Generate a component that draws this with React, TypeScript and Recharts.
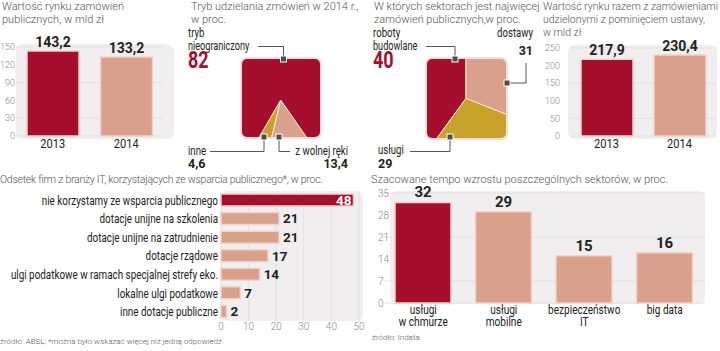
import React from 'react'
import { BarChart, Bar, XAxis, YAxis, CartesianGrid, LabelList, Cell, PieChart, Pie } from 'recharts'

const RED = '#a50e2d'
const SALMON = '#d9a08b'
const GOLD = '#c8a12a'
const BG = '#f0eeee'
const GRID = '#e3dfdf'
const TXT = '#222'
const TICK = '#8a8a8a'
const BAR_EDGE = '#f1d2cc'

const FONT = 'Roboto, "Noto Sans", sans-serif'

// wartość rynku zamówień publicznych, mld zł
const years = ['2013', '2014']
const marketValue = [143.2, 133.2]
const marketTicks = [0, 30, 60, 90, 120, 150]
// razem z zamówieniami z pominięciem ustawy
const marketTotal = [217.9, 230.4]
const totalTicks = [0, 50, 100, 150, 200, 250]

// tryb udzielania zamówień 2014, %
const modeNames = ['inne', 'z wolnej ręki', 'tryb nieograniczony']
const modeShares = [4.6, 13.4, 82]

// sektory, %
const sectorNames = ['roboty budowlane', 'usługi', 'dostawy']
const sectorShares = [40, 29, 31]

// wsparcie publiczne firm IT, %
const supportNames = [
  'nie korzystamy ze wsparcia publicznego',
  'dotacje unijne na szkolenia',
  'dotacje unijne na zatrudnienie',
  'dotacje rządowe',
  'ulgi podatkowe w ramach specjalnej strefy eko.',
  'lokalne ulgi podatkowe',
  'inne dotacje publiczne',
]
const supportShares = [48, 21, 21, 17, 14, 7, 2]
const supportTicks = [0, 10, 20, 30, 40, 50]

// tempo wzrostu sektorów, %
const growthNames = ['usługi\nw chmurze', 'usługi\nmobilne', 'bezpieczeństwo\nIT', 'big data']
const growthValues = [32, 29, 15, 16]
const growthTicks = [0, 7, 14, 21, 28, 35]

const pl = (v: number | string) => String(v).replace('.', ',')

const marketData = years.map((y, i) => ({ name: y, value: marketValue[i] }))
const totalData = years.map((y, i) => ({ name: y, value: marketTotal[i] }))
const modeData = modeNames.map((n, i) => ({ name: n, value: modeShares[i] }))
const sectorData = sectorNames.map((n, i) => ({ name: n, value: sectorShares[i] }))
const supportData = supportNames.map((n, i) => ({ name: n, value: supportShares[i] }))
const growthData = growthNames.map((n, i) => ({ name: n, value: growthValues[i] }))

// condensed look: Roboto squeezed horizontally
function NText({ x, y, anchor = 'start', size = 12, weight = 400, fill = TXT, sx = 0.8, dy, children }: {
  x: number; y: number; anchor?: 'start' | 'middle' | 'end'; size?: number; weight?: number
  fill?: string; sx?: number; dy?: string | number; children: React.ReactNode
}) {
  return (
    <text transform={`translate(${x},${y}) scale(${sx},1)`} textAnchor={anchor} dy={dy}
      style={{ fontSize: size, fontWeight: weight, fontFamily: FONT, fill }}>
      {children}
    </text>
  )
}

function Title({ left, top, lines, size = 11, spacing = 0 }: {
  left: number; top: number; lines: string[]; size?: number; spacing?: number
}) {
  return (
    <div style={{
      position: 'absolute', left, top,
      fontFamily: FONT, fontWeight: 300, fontSize: size, lineHeight: '13px', letterSpacing: spacing,
      color: '#555', whiteSpace: 'nowrap'
    }}>
      {lines.map((l, i) => <div key={i}>{l}</div>)}
    </div>
  )
}

function Panel({ left, top, bg, children }: {
  left: number; top: number
  bg: { left: number; top: number; width: number; height: number }
  children: React.ReactNode
}) {
  return (
    <>
      <div style={{ position: 'absolute', ...bg, background: BG, borderRadius: 7 }} />
      <div style={{ position: 'absolute', left, top }}>{children}</div>
    </>
  )
}

const YearTick = (props: any) => (
  <NText x={props.x} y={props.y} anchor="middle" dy="0.71em" size={13} sx={0.85}>{props.payload.value}</NText>
)

const TopValueLabel = (props: any) => {
  const { x, y, width, value } = props
  return (
    <text x={x + width / 2} y={y - 4} textAnchor="middle"
      style={{ fontSize: 14, fontWeight: 700, fontFamily: FONT, fill: TXT }}>
      {pl(value)}
    </text>
  )
}

function YearBars({ data, ticks, max, margin, yWidth, yMargin }: {
  data: { name: string; value: number }[]; ticks: number[]; max: number
  margin: { top: number; right: number; bottom: number; left: number }
  yWidth: number; yMargin: number
}) {
  return (
    <BarChart width={180} height={160} data={data} margin={margin}>
      <CartesianGrid vertical={false} stroke={GRID} />
      <XAxis dataKey="name" height={24} axisLine={false} tickLine={false} tickSize={0} tickMargin={3}
        tick={<YearTick />} />
      <YAxis domain={[0, max]} ticks={ticks} width={yWidth} axisLine={false} tickLine={false} tickSize={0}
        tickMargin={yMargin} tick={{ fontSize: 9, fill: TICK, fontFamily: FONT, fontWeight: 300 }} />
      <Bar dataKey="value" barSize={52} stroke={BAR_EDGE} strokeWidth={1.5} isAnimationActive={false}>
        <Cell fill={RED} />
        <Cell fill={SALMON} />
        <LabelList dataKey="value" content={TopValueLabel} />
      </Bar>
    </BarChart>
  )
}

function SquarePie({ left, top, size, cx, cy, data, colors, startAngle }: {
  left: number; top: number; size: number; cx: number; cy: number
  data: { name: string; value: number }[]; colors: string[]; startAngle: number
}) {
  return (
    <div style={{
      position: 'absolute', left, top, width: size, height: size, boxSizing: 'border-box',
      border: '2px solid #f3dedb', borderRadius: 7, overflow: 'hidden'
    }}>
      <PieChart width={size - 4} height={size - 4} margin={{ top: 0, right: 0, bottom: 0, left: 0 }}>
        <Pie data={data} dataKey="value" cx={cx} cy={cy} innerRadius={0} outerRadius={95}
          startAngle={startAngle} endAngle={startAngle + 360} stroke="#f6ead0" strokeWidth={1}
          isAnimationActive={false}>
          {data.map((d, i) => <Cell key={d.name} fill={colors[i]} />)}
        </Pie>
      </PieChart>
    </div>
  )
}

const SupportTick = (props: any) => (
  <NText x={props.x} y={props.y} anchor="end" dy="0.35em" size={12.5} sx={0.79}>{props.payload.value}</NText>
)

const SupportLabel = (props: any) => {
  const { x, y, width, height, value, index } = props
  const inside = index === 0
  return (
    <text x={inside ? x + width - 2 : x + width + 4} y={y + height / 2} dy="0.36em"
      textAnchor={inside ? 'end' : 'start'} fill={inside ? '#fff' : TXT}
      style={{ fontSize: 13.5, fontWeight: 700, fontFamily: FONT }}>
      {value}
    </text>
  )
}

const GrowthTick = (props: any) => {
  const { x, y, payload } = props
  const lines = String(payload.value).split('\n')
  return (
    <g>
      {lines.map((l, i) => (
        <NText key={i} x={x} y={y + 9 + i * 12} anchor="middle" size={12} sx={0.84}>{l}</NText>
      ))}
    </g>
  )
}

const GrowthLabel = (props: any) => {
  const { x, y, width, value } = props
  return (
    <text x={x + width / 2} y={y - 5} textAnchor="middle"
      style={{ fontSize: 15, fontWeight: 700, fontFamily: FONT, fill: TXT }}>
      {value}
    </text>
  )
}

function Marker({ x, y }: { x: number; y: number }) {
  return <rect x={x - 3} y={y - 3} width={6} height={6} fill="#4d4d4d" stroke="#fff" strokeWidth={1} />
}

function Annotations() {
  const num = { fontSize: 12.5, fontFamily: FONT, fontWeight: 700, fill: TXT }
  const line = { stroke: '#555', strokeWidth: 1, fill: 'none' }
  return (
    <svg width={720} height={351} style={{ position: 'absolute', left: 0, top: 0, pointerEvents: 'none' }}>
      {/* tryb udzielania */}
      <polyline points="258,46.5 283.5,46.5 283.5,59" {...line} />
      <polyline points="264,137 264,151.5 210,151.5" {...line} />
      <polyline points="279,137 279,151.5 290,151.5" {...line} />
      <Marker x={283.5} y={59} />
      <Marker x={264} y={137} />
      <Marker x={279} y={137} />
      <NText x={188} y={36.5}>tryb</NText>
      <NText x={188} y={50} sx={0.76}>nieograniczony</NText>
      <NText x={188} y={68} size={23} weight={700} fill={RED} sx={0.78}>{pl(modeShares[2])}</NText>
      <NText x={188} y={155}>{modeNames[0]}</NText>
      <text x={188} y={168} style={num}>{pl(modeShares[0])}</text>
      <NText x={348} y={155} anchor="end">{modeNames[1]}</NText>
      <text x={348} y={168} textAnchor="end" style={num}>{pl(modeShares[1])}</text>

      {/* sektory */}
      <polyline points="426,46.5 455,46.5 455,59" {...line} />
      <polyline points="507,83 526,83 526,63" {...line} />
      <polyline points="450,137 450,151.5 410,151.5" {...line} />
      <Marker x={455} y={59} />
      <Marker x={507} y={83} />
      <Marker x={450} y={137} />
      <NText x={373} y={36.5}>roboty</NText>
      <NText x={373} y={50} sx={0.76}>budowlane</NText>
      <NText x={373} y={68} size={23} weight={700} fill={RED} sx={0.78}>{pl(sectorShares[0])}</NText>
      <NText x={533} y={37} anchor="end">{sectorNames[2]}</NText>
      <text x={533} y={55} textAnchor="end" style={num}>{pl(sectorShares[2])}</text>
      <NText x={378} y={154}>{sectorNames[1]}</NText>
      <text x={378} y={168} style={num}>{pl(sectorShares[1])}</text>
    </svg>
  )
}

export default function App() {
  return (
    <div style={{ position: 'absolute', left: 0, top: 0, width: 720, height: 351, background: '#fff', overflow: 'hidden' }}>
      <Title left={2} top={0} lines={['Wartość rynku zamówień', 'publicznych, w mld zł']} />
      <Title left={191} top={0} lines={['Tryb udzielania zmówień w 2014 r.,', 'w proc.']} />
      <Title left={374} top={0} lines={['W których sektorach jest najwięcej', 'zamówień publicznych,w  proc.']} />
      <Title left={543} top={0} size={10.5} lines={['Wartość rynku razem z zamówieniami', 'udzielonymi z pominięciem ustawy,', 'w mld zł']} />
      <Title left={0} top={173} size={10.5} spacing={-0.25} lines={['Odsetek firm z branży IT, korzystających ze wsparcia publicznego*, w proc.']} />
      <Title left={371} top={173} size={11} lines={['Szacowane tempo wzrostu poszczególnych sektorów, w proc.']} />

      <Panel left={0} top={0} bg={{ left: 16, top: 44, width: 158, height: 95 }}>
        <YearBars data={marketData} ticks={marketTicks} max={150}
          margin={{ top: 47, right: 17, bottom: 0, left: 0 }} yWidth={16} yMargin={1} />
      </Panel>

      <Panel left={540} top={0} bg={{ left: 568, top: 45, width: 149, height: 94 }}>
        <YearBars data={totalData} ticks={totalTicks} max={250}
          margin={{ top: 48, right: 4, bottom: 0, left: 0 }} yWidth={30} yMargin={10} />
      </Panel>

      <SquarePie left={240} top={57} size={82} cx={38.7} cy={41} data={modeData}
        colors={[GOLD, SALMON, RED]} startAngle={240} />
      <SquarePie left={425} top={57} size={83} cx={39} cy={39.3} data={sectorData}
        colors={[RED, GOLD, SALMON]} startAngle={90} />

      <Panel left={0} top={170} bg={{ left: 221, top: 191, width: 142, height: 130 }}>
        <BarChart layout="vertical" width={370} height={170} data={supportData}
          margin={{ top: 21, right: 11, bottom: 5, left: 0 }}>
          <CartesianGrid horizontal={false} stroke={GRID} />
          <XAxis type="number" domain={[0, 50]} ticks={supportTicks} height={14} axisLine={false}
            tickLine={false} tickSize={0} tickMargin={2}
            tick={{ fontSize: 10, fill: TICK, fontFamily: FONT, fontWeight: 300 }} />
          <YAxis type="category" dataKey="name" width={221} axisLine={false} tickLine={false}
            tickSize={0} tickMargin={3} interval={0} tick={<SupportTick />} />
          <Bar dataKey="value" barSize={12} stroke={BAR_EDGE} strokeWidth={1.5} isAnimationActive={false}>
            {supportData.map((d, i) => <Cell key={i} fill={i === 0 ? RED : SALMON} />)}
            <LabelList dataKey="value" content={SupportLabel} />
          </Bar>
        </BarChart>
      </Panel>

      <Panel left={365} top={170} bg={{ left: 390, top: 191, width: 315, height: 113 }}>
        <BarChart width={355} height={170} data={growthData}
          margin={{ top: 23, right: 15, bottom: 0, left: 0 }}>
          <CartesianGrid vertical={false} stroke={GRID} />
          <XAxis dataKey="name" height={37} axisLine={false} tickLine={false} tickSize={0}
            tickMargin={2} interval={0} tick={<GrowthTick />} />
          <YAxis domain={[0, 35]} ticks={growthTicks} width={18} axisLine={false} tickLine={false}
            tickSize={0} tickMargin={5}
            tick={{ fontSize: 10, fill: TICK, fontFamily: FONT, fontWeight: 300, textAnchor: 'start' }} />
          <Bar dataKey="value" barSize={56} stroke={BAR_EDGE} strokeWidth={1.5} isAnimationActive={false}>
            {growthData.map((d, i) => <Cell key={i} fill={i === 0 ? RED : SALMON} />)}
            <LabelList dataKey="value" content={GrowthLabel} />
          </Bar>
        </BarChart>
      </Panel>

      <Annotations />

      <div style={{ position: 'absolute', left: 0, top: 337, fontFamily: FONT, fontWeight: 300, fontSize: 8, color: '#555', whiteSpace: 'nowrap' }}>
        źródło: ABSL, *można było wskazać więcej niż jedną odpowiedź
      </div>
      <div style={{ position: 'absolute', left: 372, top: 333, fontFamily: FONT, fontWeight: 300, fontSize: 8, color: '#555', whiteSpace: 'nowrap' }}>
        źródło: Indata
      </div>
    </div>
  )
}
